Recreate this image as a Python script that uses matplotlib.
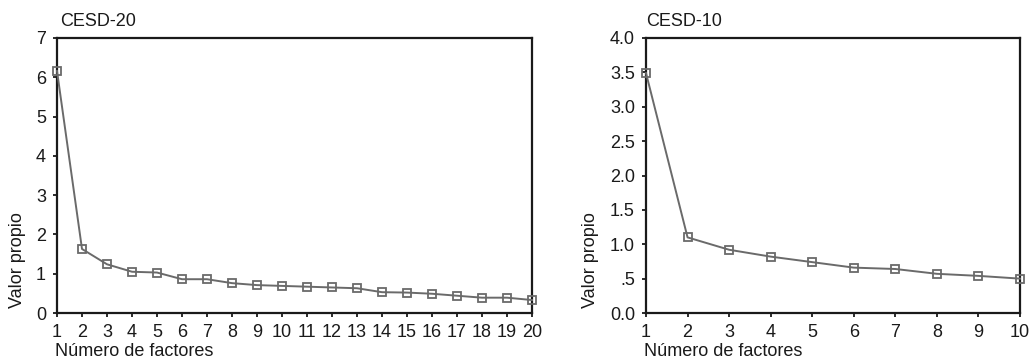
import matplotlib
matplotlib.use("Agg")
import matplotlib.pyplot as plt
from matplotlib.ticker import FixedLocator, FixedFormatter

plt.rcParams['font.family'] = ['Liberation Sans', 'DejaVu Sans']
plt.rcParams['font.size'] = 13

# eigenvalues
cesd20_factors = list(range(1, 21))
cesd20_values = [6.16, 1.63, 1.24, 1.05, 1.03, 0.86, 0.86, 0.76, 0.71, 0.69,
                 0.67, 0.65, 0.63, 0.53, 0.52, 0.49, 0.44, 0.39, 0.39, 0.33]
cesd20_yticks = [0, 1, 2, 3, 4, 5, 6, 7]
cesd20_ylabels = ['0', '1', '2', '3', '4', '5', '6', '7']

cesd10_factors = list(range(1, 11))
cesd10_values = [3.49, 1.10, 0.92, 0.82, 0.74, 0.66, 0.64, 0.57, 0.54, 0.50]
cesd10_yticks = [0, 0.5, 1.0, 1.5, 2.0, 2.5, 3.0, 3.5, 4.0]
cesd10_ylabels = ['0.0', '.5', '1.0', '1.5', '2.0', '2.5', '3.0', '3.5', '4.0']

W, H = 1036, 361
fig = plt.figure(figsize=(W / 100, H / 100), dpi=100)

line_col = '#6a6a6a'
spine_col = '#1a1a1a'
text_col = '#1a1a1a'


def scree(left_px, right_px, title, xs, ys, yticks, ylabels, ylab_off):
    top_px, bot_px = 38, 313
    ax = fig.add_axes([left_px / W, 1 - bot_px / H,
                       (right_px - left_px) / W, (bot_px - top_px) / H])
    ax.plot(xs, ys, color=line_col, lw=1.4, marker='s', ms=5.2,
            mfc='none', mec=line_col, mew=1.3, clip_on=False, zorder=3)
    ax.set_xlim(xs[0], xs[-1])
    ax.set_ylim(yticks[0], yticks[-1])
    ax.xaxis.set_major_locator(FixedLocator(xs))
    ax.yaxis.set_major_locator(FixedLocator(yticks))
    ax.yaxis.set_major_formatter(FixedFormatter(ylabels))
    for s in ax.spines.values():
        s.set_color(spine_col)
        s.set_linewidth(1.6)
    ax.tick_params(direction='out', length=3, width=1.3, color=spine_col,
                   pad=5, labelcolor=text_col)
    w = right_px - left_px
    h = bot_px - top_px
    ax.text(0.0 if left_px > 500 else 0.007, 1 + 12 / h, title,
            transform=ax.transAxes, ha='left', va='baseline', color=text_col)
    ax.set_xlabel('Número de factores', loc='left', va='bottom', color=text_col)
    ax.xaxis.set_label_coords(-2 / w, -(360 - bot_px) / h)
    ax.set_ylabel('Valor propio', loc='bottom', va='center', color=text_col)
    ax.yaxis.set_label_coords(-ylab_off / w, 0.02)
    return ax


scree(57, 532, 'CESD-20', cesd20_factors, cesd20_values,
      cesd20_yticks, cesd20_ylabels, 39.5)
scree(646, 1020, 'CESD-10', cesd10_factors, cesd10_values,
      cesd10_yticks, cesd10_ylabels, 55.5)

fig.savefig('out.png', dpi=100)
